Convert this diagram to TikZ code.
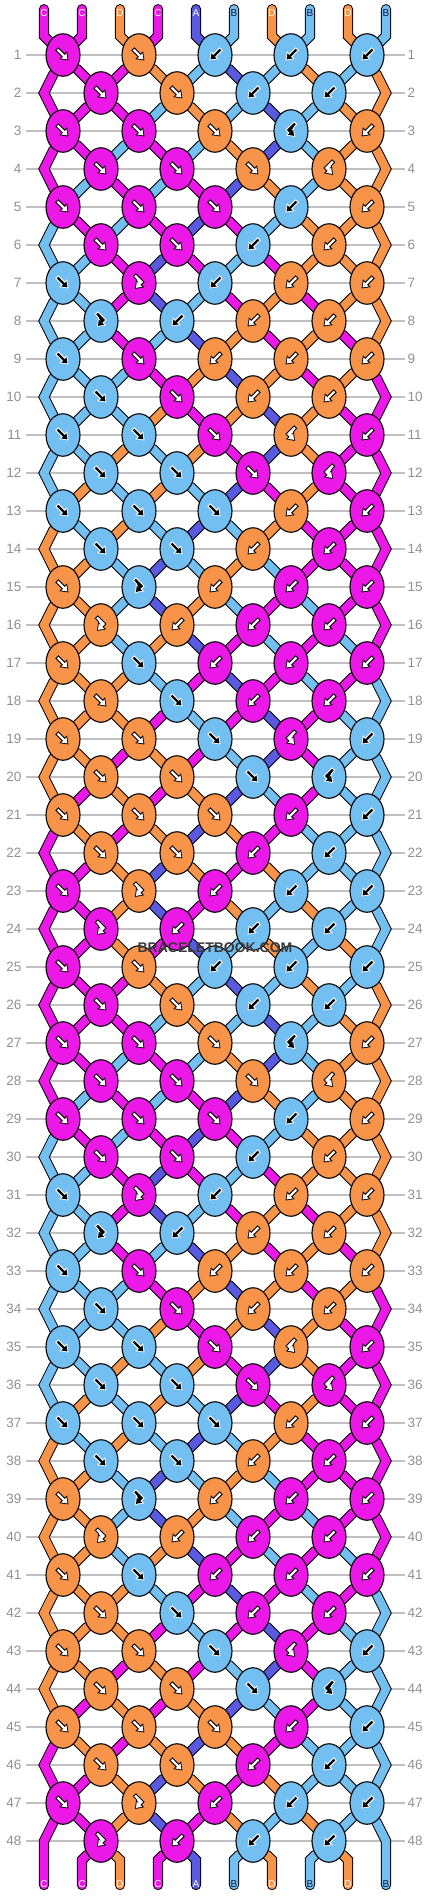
\documentclass[tikz,border=0pt]{standalone}
\usepackage{fontspec}
\setmainfont{Liberation Sans}
\usetikzlibrary{shapes.geometric,arrows.meta}
\definecolor{cC}{RGB}{236,24,232}
\definecolor{cD}{RGB}{247,148,74}
\definecolor{cA}{RGB}{90,90,225}
\definecolor{cB}{RGB}{115,191,241}
\definecolor{gridgray}{RGB}{192,192,192}
\definecolor{numgray}{RGB}{145,145,145}
\definecolor{labdark}{RGB}{20,25,60}
\definecolor{wmgray}{RGB}{58,58,58}
\pgfdeclarelayer{grid}
\pgfdeclarelayer{strings}
\pgfsetlayers{grid,strings,main}

\newcommand\setg[2]{\expandafter\xdef\csname #1\endcsname{#2}}
\newcommand\getv[1]{\csname #1\endcsname}

% knot types per row (row-1 mod 8): 1=F, 2=B, 3=FB, 4=BF
\expandafter\def\csname types0\endcsname{1,1,2,2,2}
\expandafter\def\csname types1\endcsname{1,1,2,2}
\expandafter\def\csname types2\endcsname{1,1,1,4,2}
\expandafter\def\csname types3\endcsname{1,1,1,4}
\expandafter\def\csname types4\endcsname{1,1,1,2,2}
\expandafter\def\csname types5\endcsname{1,1,2,2}
\expandafter\def\csname types6\endcsname{1,3,2,2,2}
\expandafter\def\csname types7\endcsname{3,2,2,2}

% arrow colours per knot colour
\expandafter\def\csname afcC\endcsname{white}\expandafter\def\csname aocC\endcsname{black}
\expandafter\def\csname afcD\endcsname{white}\expandafter\def\csname aocD\endcsname{black}
\expandafter\def\csname afcA\endcsname{white}\expandafter\def\csname aocA\endcsname{black}
\expandafter\def\csname afcB\endcsname{black}\expandafter\def\csname aocB\endcsname{white}
% string letters
\expandafter\def\csname lbcC\endcsname{C}\expandafter\def\csname txcC\endcsname{white}
\expandafter\def\csname lbcD\endcsname{D}\expandafter\def\csname txcD\endcsname{white}
\expandafter\def\csname lbcA\endcsname{A}\expandafter\def\csname txcA\endcsname{white}
\expandafter\def\csname lbcB\endcsname{B}\expandafter\def\csname txcB\endcsname{labdark}

% arrow paths (pixel units, y down)
\expandafter\def\csname ap1\endcsname{(-5.5,-5.5) -- (5.5,5.5)}
\expandafter\def\csname ap2\endcsname{(5.5,-5.5) -- (-5.5,5.5)}
\expandafter\def\csname ap3\endcsname{(-4,-7.5) -- (2.5,-1) -- (-4,6)}
\expandafter\def\csname ap4\endcsname{(4,-7.5) -- (-2.5,-1) -- (4,6)}

\newcommand\knotarrow[4]{%
  \edef\afc{\csname af#4\endcsname}%
  \edef\aoc{\csname ao#4\endcsname}%
  \edef\apath{\csname ap#1\endcsname}%
  \begin{scope}[shift={(#2,#3)}]
    \draw[line width=4.4pt, draw=\aoc, fill=\aoc, shorten <=-1pt, miter limit=3,
      -{Triangle[length=7.6pt,width=10.6pt]}] \apath;
    \draw[line width=2.2pt, draw=\afc, fill=\afc, shorten >=1.5pt, miter limit=3,
      -{Triangle[length=5pt,width=7pt]}] \apath;
  \end{scope}}

\tikzset{
  knot/.style={ellipse, draw=black, line width=1.1pt, minimum width=34pt,
    minimum height=42.5pt, inner sep=0pt},
  str/.style={draw=black, line width=1pt, double=#1, double distance=8.3pt,
    line cap=round, line join=miter},
  rowline/.style={draw=gridgray, line width=1.2pt},
  rownum/.style={text=numgray, font=\fontsize{13.5}{14}\selectfont, inner sep=0pt},
  strlab/.style={font=\fontsize{10}{11}\selectfont, inner sep=0pt},
  wmark/.style={font=\bfseries\fontsize{14}{15}\selectfont, text=wmgray, inner sep=0pt}
}

\begin{document}
\begin{tikzpicture}[x=1pt,y=-1pt]
\useasboundingbox (0,0) rectangle (430,1896);
\begin{pgfonlayer}{grid}
  \fill[white] (0,0) rectangle (430,1896);
\end{pgfonlayer}

% initial strings
\foreach \sc [count=\p] in {cC,cC,cD,cC,cA,cB,cD,cB,cD,cB}{
  \pgfmathsetmacro\sx{44+38*(\p-1)}
  \coordinate (top-\p) at (\sx,9.2);
  \coordinate (tb-\p) at (\sx,36);
  \edef\tcol{\getv{tx\sc}}
  \node[strlab, text=\tcol] (tl-\p) at (\sx,13) {\getv{lb\sc}};
  \setg{pos\p}{\sc}
  \setg{last\p}{top-\p}
  \setg{via\p}{(tb-\p) --}
}

% rows
\foreach \rr in {1,...,48}{
  \pgfmathsetmacro\yy{55+38*(\rr-1)}
  \pgfmathtruncatemacro\mm{mod(\rr-1,8)}
  \node[rownum, anchor=east] (nl-\rr) at (21.5,\yy) {\rr};
  \node[rownum, anchor=west] (nr-\rr) at (407.5,\yy) {\rr};
  \begin{pgfonlayer}{grid}
    \draw[rowline] (26,\yy) -- (405,\yy);
  \end{pgfonlayer}
  \ifodd\rr\relax\else
    \coordinate (lb-\rr) at (44,\yy);
    \coordinate (rb-\rr) at (386,\yy);
    \setg{via1}{(lb-\rr) --}
    \setg{via10}{(rb-\rr) --}
  \fi
  \edef\types{\getv{types\mm}}
  \foreach \kt [count=\ii] in \types {
    \ifodd\rr\relax
      \pgfmathtruncatemacro\pp{2*\ii-1}
    \else
      \pgfmathtruncatemacro\pp{2*\ii}
    \fi
    \pgfmathtruncatemacro\qq{\pp+1}
    \pgfmathsetmacro\xx{63+38*(\pp-1)}
    \edef\lc{\getv{pos\pp}}
    \edef\rc{\getv{pos\qq}}
    \ifodd\kt\relax \let\kc\lc \else \let\kc\rc \fi
    \node[knot, fill=\kc] (k-\rr-\ii) at (\xx,\yy) {};
    \knotarrow{\kt}{\xx}{\yy}{\kc}
    \edef\pthl{(\getv{last\pp}) -- \getv{via\pp} (k-\rr-\ii.center)}
    \edef\pthr{(\getv{last\qq}) -- \getv{via\qq} (k-\rr-\ii.center)}
    \begin{pgfonlayer}{strings}
      \draw[str=\lc] \pthl;
      \draw[str=\rc] \pthr;
    \end{pgfonlayer}
    \setg{last\pp}{k-\rr-\ii}
    \setg{last\qq}{k-\rr-\ii}
    \setg{via\pp}{}
    \setg{via\qq}{}
    \ifnum\kt<3 \setg{pos\pp}{\rc}\setg{pos\qq}{\lc}\fi
  }
}

% bottom strings
\foreach \p in {1,...,10}{
  \pgfmathsetmacro\sx{44+38*(\p-1)}
  \ifnum\p>1 \ifnum\p<10
    \coordinate (bb-\p) at (\sx,1860);
    \setg{via\p}{(bb-\p) --}
  \fi\fi
  \coordinate (bot-\p) at (\sx,1885);
  \edef\cc{\getv{pos\p}}
  \edef\pth{(\getv{last\p}) -- \getv{via\p} (bot-\p)}
  \begin{pgfonlayer}{strings}
    \draw[str=\cc] \pth;
  \end{pgfonlayer}
  \edef\tcol{\getv{tx\cc}}
  \node[strlab, text=\tcol] (bl-\p) at (\sx,1884) {\getv{lb\cc}};
}

\node[wmark] (wm) at (215,948) {BRACELETBOOK.COM};
\end{tikzpicture}
\end{document}
